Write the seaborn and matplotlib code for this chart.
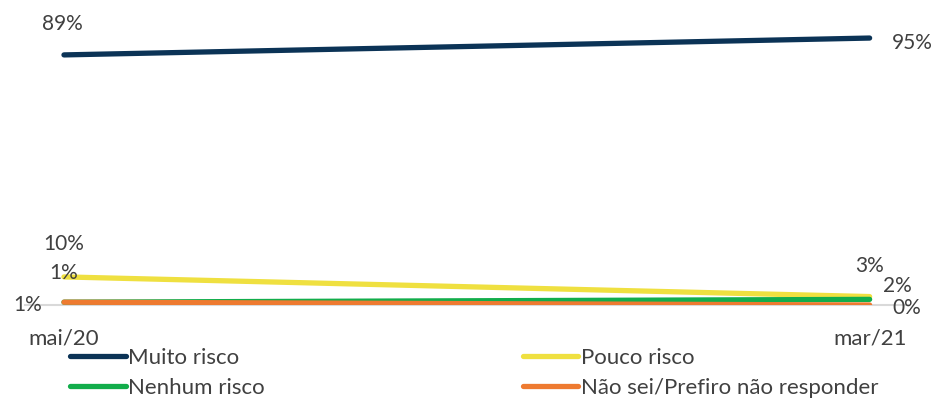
import matplotlib
matplotlib.use("Agg")
import matplotlib.pyplot as plt
import seaborn as sns
import pandas as pd
from matplotlib.lines import Line2D

periods = ["mai/20", "mar/21"]
series = ["Muito risco", "Pouco risco", "Nenhum risco", "Não sei/Prefiro não responder"]
muito_risco = [89, 95]
pouco_risco = [10, 3]
nenhum_risco = [1, 2]
nao_sei = [1, 0]
colors = ["#0B3356", "#EFE040", "#12AD4B", "#EE7A30"]

values = [muito_risco, pouco_risco, nenhum_risco, nao_sei]
rows = []
for s, vals in zip(series, values):
    for i, v in enumerate(vals):
        rows.append({"pos": i, "periodo": periods[i], "serie": s, "valor": v})
df = pd.DataFrame(rows)

sns.set_theme(style="white")
plt.rcParams["font.family"] = ["Lato", "DejaVu Sans"]
text_color = "#404040"
fs = 16
fs_lab = 15

fig = plt.figure(figsize=(9.34, 4.01), dpi=100)
ax = fig.add_axes([25.3 / 934, 96 / 401, 883 / 934, 281 / 401])

sns.lineplot(data=df, x="pos", y="valor", hue="serie", hue_order=series,
             palette=colors, linewidth=3.8, legend=False, ax=ax,
             solid_capstyle="round")

ax.set_xlim(-0.048, 1.048)
ax.set_ylim(0, 100)
ax.set_xticks([0, 1])
ax.set_xticklabels(periods, fontsize=fs, color=text_color)
ax.tick_params(axis="x", length=0, pad=17)
ax.set_yticks([])
ax.set_xlabel("")
ax.set_ylabel("")
for sp in ["top", "right", "left"]:
    ax.spines[sp].set_visible(False)
ax.spines["bottom"].set_color("#D9D9D9")
ax.spines["bottom"].set_linewidth(1.5)
ax.spines["bottom"].set_zorder(0)

# data labels: (series index, point index, dx px, dy px, ha, va)
label_pos = [
    (0, 0, -2, 31, "center", "center"),
    (0, 1, 22, -5, "left", "center"),
    (1, 0, 0, 33, "center", "center"),
    (1, 1, 0, 31, "center", "center"),
    (2, 0, 0, 29, "center", "center"),
    (2, 1, 13, 13, "left", "center"),
    (3, 0, -22, -3, "right", "center"),
    (3, 1, 23, -3, "left", "center"),
]
for si, pi, dx, dy, ha, va in label_pos:
    v = values[si][pi]
    ax.annotate(f"{v}%", xy=(pi, v), xytext=(dx * 0.72, dy * 0.72),
                textcoords="offset points", ha=ha, va=va,
                fontsize=fs_lab, color=text_color, annotation_clip=False)

handles = [Line2D([0], [0], color=c, lw=3.8, solid_capstyle="round") for c in colors]
order = [0, 2, 1, 3]
fig.legend([handles[i] for i in order], [series[i] for i in order],
           loc="upper left", bbox_to_anchor=(70 / 934, 1 - 348 / 401),
           ncol=2, frameon=False, fontsize=fs, handlelength=2.5,
           handletextpad=0.12, columnspacing=11.6, labelspacing=0.45,
           labelcolor=text_color, borderaxespad=0, borderpad=0)

fig.savefig("out.png", dpi=100)
